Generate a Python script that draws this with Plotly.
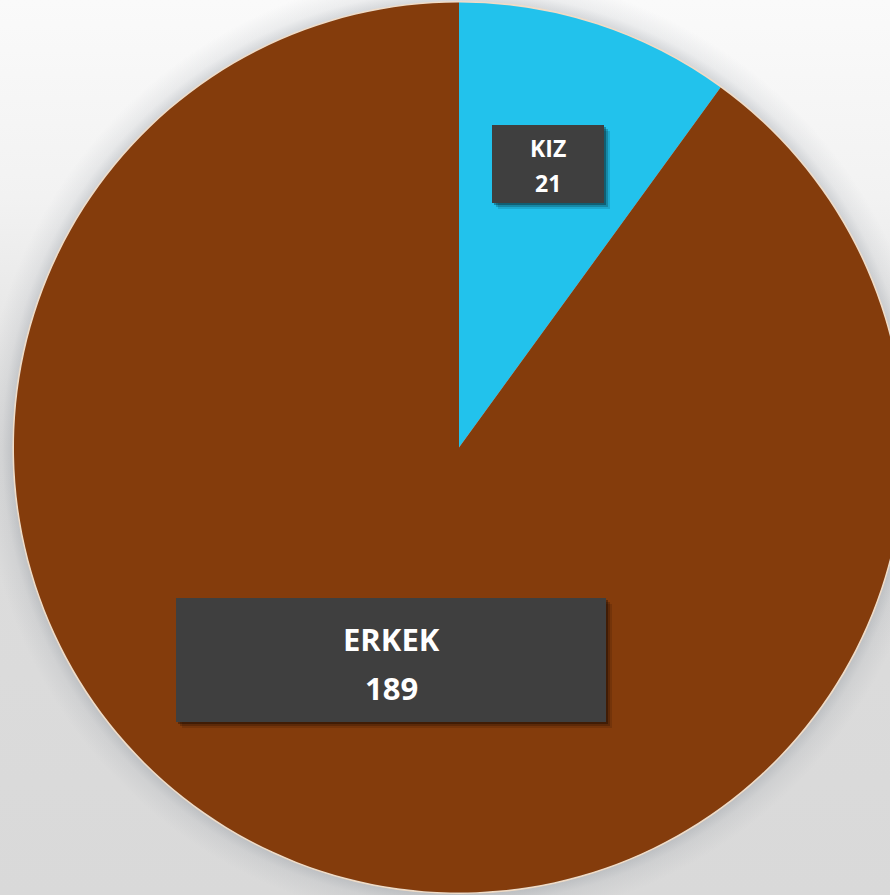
import base64
import plotly.graph_objects as go

# Data
labels = ["KIZ", "ERKEK"]
values = [21, 189]
colors = ["#22C2EC", "#843C0C"]

W, H = 918, 895          # figure size (wider than the window so the pie sits off-centre)
CX, CY, R = 459, 447.5, 445

# Background: light vertical gradient plus a soft shadow ring around the pie
svg = f"""<svg xmlns='http://www.w3.org/2000/svg' width='{W}' height='{H}' viewBox='0 0 {W} {H}'>
<defs>
<linearGradient id='bg' x1='0' y1='0' x2='0' y2='1'>
<stop offset='0' stop-color='#fafafa'/>
<stop offset='0.22' stop-color='#f2f2f2'/>
<stop offset='0.5' stop-color='#dddddd'/>
<stop offset='1' stop-color='#d9d9d9'/>
</linearGradient>
<radialGradient id='sh' gradientUnits='userSpaceOnUse' cx='{CX}' cy='{CY}' r='{R + 32}'>
<stop offset='0' stop-color='#000' stop-opacity='0'/>
<stop offset='{R / (R + 32):.4f}' stop-color='#66707c' stop-opacity='0.26'/>
<stop offset='{(R + 12) / (R + 32):.4f}' stop-color='#66707c' stop-opacity='0.09'/>
<stop offset='1' stop-color='#66707c' stop-opacity='0'/>
</radialGradient>
</defs>
<rect width='{W}' height='{H}' fill='url(#bg)'/>
<rect width='{W}' height='{H}' fill='url(#sh)'/>
<circle cx='{CX}' cy='{CY}' r='{R + 0.8}' fill='none' stroke='#f1dcc6' stroke-width='1.6'/>
</svg>"""
bg_src = "data:image/svg+xml;base64," + base64.b64encode(svg.encode()).decode()

fig = go.Figure(
    go.Pie(
        labels=labels,
        values=values,
        marker=dict(colors=colors, line=dict(width=0)),
        sort=False,
        direction="clockwise",
        rotation=0,
        textinfo="none",
        hoverinfo="label+value",
        showlegend=False,
        domain=dict(x=[0, 1], y=[(H / 2 - R) / H, (H / 2 + R) / H]),
    )
)

# Label boxes: centre x, centre y, width, height, font size, line-1 y, line-2 y (pixels)
boxes = [
    (548, 164, 112, 78, 23, 148, 183),
    (391, 660, 430, 124, 31, 639, 688),
]

shapes = []
annotations = []
for (lab, val), (bx, by, bw, bh, fs, y1, y2) in zip(zip(labels, values), boxes):
    # drop shadow
    for off, op in ((6, 0.12), (4, 0.2), (2, 0.3)):
        shapes.append(dict(
            type="rect", xref="paper", yref="paper", layer="above",
            x0=(bx - bw / 2 + off) / W, x1=(bx + bw / 2 + off) / W,
            y0=1 - (by + bh / 2 + off) / H, y1=1 - (by - bh / 2 + off) / H,
            fillcolor=f"rgba(0,0,0,{op})", line=dict(width=0),
        ))
    # box
    shapes.append(dict(
        type="rect", xref="paper", yref="paper", layer="above",
        x0=(bx - bw / 2) / W, x1=(bx + bw / 2) / W,
        y0=1 - (by + bh / 2) / H, y1=1 - (by - bh / 2) / H,
        fillcolor="#3f3f3f", line=dict(width=0),
    ))
    for txt, ty in ((lab, y1), (str(val), y2)):
        annotations.append(dict(
            text=f"<b>{txt}</b>",
            x=bx / W, y=1 - ty / H, xref="paper", yref="paper",
            xanchor="center", yanchor="middle",
            showarrow=False, align="center",
            font=dict(family="Open Sans, Lato, sans-serif", size=fs, color="#ffffff"),
        ))

fig.update_layout(
    width=W, height=H,
    margin=dict(l=0, r=0, t=0, b=0),
    paper_bgcolor="#e8e8e8",
    plot_bgcolor="rgba(0,0,0,0)",
    images=[dict(source=bg_src, xref="paper", yref="paper", x=0, y=1,
                 sizex=1, sizey=1, sizing="stretch", layer="below",
                 xanchor="left", yanchor="top")],
    shapes=shapes,
    annotations=annotations,
)

fig.write_html(
    "out.html",
    post_script="document.documentElement.style.overflow='hidden';document.body.style.overflow='hidden';document.body.style.margin='0';",
)
